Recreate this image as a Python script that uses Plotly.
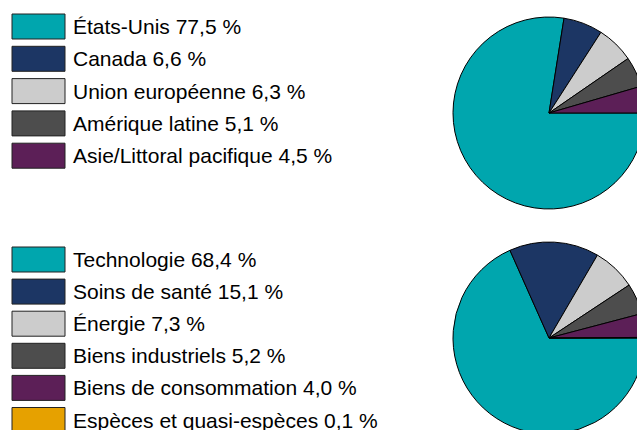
import plotly.graph_objects as go

# ---- data ----
regions = ["États-Unis", "Canada", "Union européenne", "Amérique latine", "Asie/Littoral pacifique"]
region_values = [77.5, 6.6, 6.3, 5.1, 4.5]
sectors = ["Technologie", "Soins de santé", "Énergie", "Biens industriels",
           "Biens de consommation", "Espèces et quasi-espèces"]
sector_values = [68.4, 15.1, 7.3, 5.2, 4.0, 0.1]
colors = ["#00A6AE", "#1C3664", "#CCCCCC", "#4D4D4D", "#5C1F57", "#E6A100"]

def fmt(v):
    return f"{v:.1f}".replace(".", ",") + " %"

W, H = 650, 440
FONT = "Liberation Sans, Arial, sans-serif"

fig = go.Figure()

def add_pie(labels, values, cx, cy, r):
    fig.add_trace(go.Pie(
        labels=labels, values=values, sort=False, direction="clockwise", rotation=90,
        marker=dict(colors=colors[:len(values)], line=dict(color="#000000", width=1)),
        textinfo="none", hoverinfo="label+percent", showlegend=False,
        domain=dict(x=[(cx - r) / W, (cx + r) / W], y=[(H - cy - r) / H, (H - cy + r) / H]),
    ))

add_pie(regions, region_values, 549, 113, 96)
add_pie(sectors, sector_values, 549, 338, 96)

shapes, annotations = [], []
def add_legend(labels, values, top0, step):
    for i, (lab, v) in enumerate(zip(labels, values)):
        y0 = top0 + i * step
        shapes.append(dict(type="rect", xref="x", yref="y", x0=12, x1=65, y0=y0, y1=y0 + 25,
                           fillcolor=colors[i], line=dict(color="#222222", width=1)))
        annotations.append(dict(x=71, y=y0 + 12.5, xref="x", yref="y", text=f"{lab} {fmt(v)}",
                                showarrow=False, xanchor="left", yanchor="middle",
                                font=dict(family=FONT, size=21, color="#000000")))

add_legend(regions, region_values, 14, 32.3)
add_legend(sectors, sector_values, 247, 32.1)

fig.update_layout(
    width=W, height=H, margin=dict(l=0, r=0, t=0, b=0),
    paper_bgcolor="white", plot_bgcolor="white",
    xaxis=dict(range=[0, W], visible=False, fixedrange=True),
    yaxis=dict(range=[H, 0], visible=False, fixedrange=True),
    shapes=shapes, annotations=annotations, showlegend=False,
)

fig.write_html("out.html", config={"displayModeBar": False},
               post_script="document.body.style.margin='0';document.body.style.overflow='hidden';")
